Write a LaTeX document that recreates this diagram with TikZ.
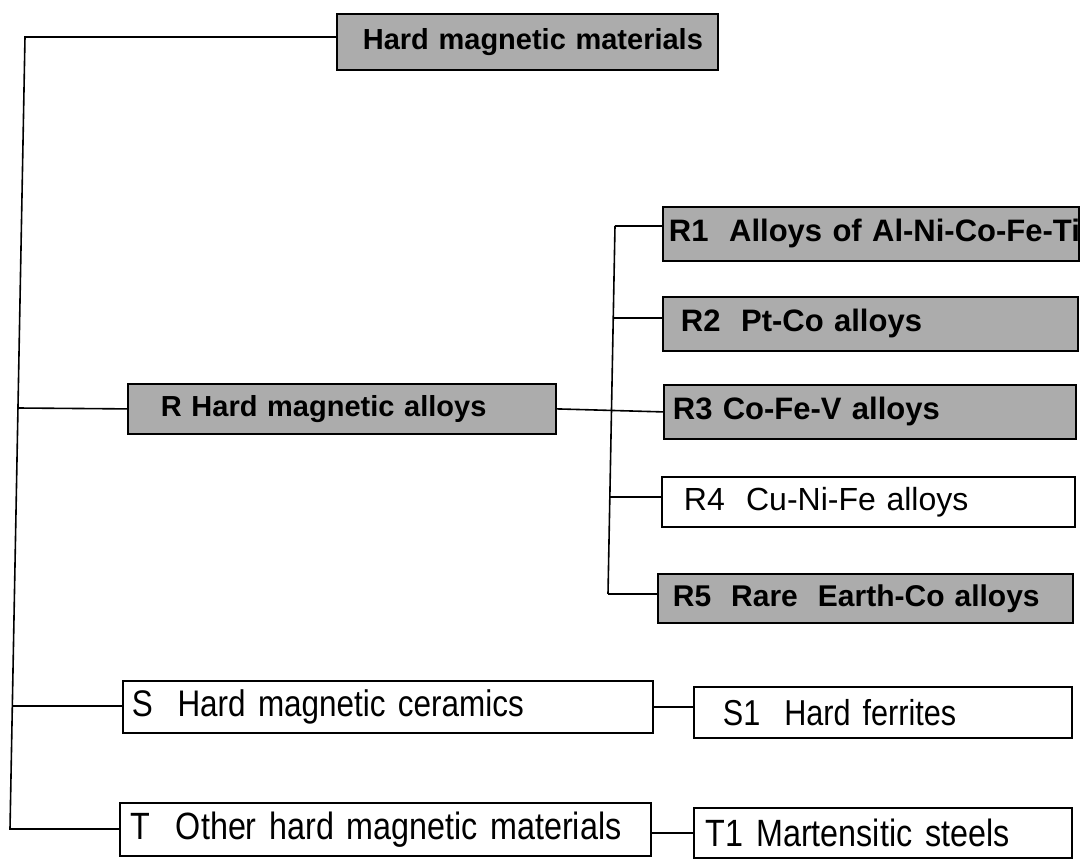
\documentclass[tikz,border=0pt]{standalone}
\usepackage{fontspec}
\setmainfont{Liberation Sans}
\newfontfamily\condfont{Liberation Sans}[FakeStretch=0.85]
\definecolor{boxgray}{RGB}{172,172,172}
\begin{document}
\begin{tikzpicture}[x=1pt,y=-1pt,
  box/.style={draw=black, line width=1.8pt, anchor=north west, align=left, inner ysep=0pt},
  gbox/.style={box, fill=boxgray, font=\bfseries},
  wbox/.style={box, fill=white},
  conn/.style={draw=black, line width=1.6pt}]
\useasboundingbox (0,0) rectangle (1080,859);
% nodes
\node[gbox, minimum width=381pt, minimum height=56pt, inner xsep=26pt, text width=329pt, font=\bfseries\fontsize{29}{32}\selectfont] (top) at (336,13) {\mbox{Hard magnetic materials}};
\node[gbox, minimum width=428pt, minimum height=50pt, inner xsep=33pt, text width=362pt, font=\bfseries\fontsize{29}{32}\selectfont] (R) at (127,383) {\mbox{R Hard magnetic alloys}};
\node[gbox, minimum width=416pt, minimum height=54pt, inner xsep=6pt, text width=404pt, font=\bfseries\fontsize{31}{34}\selectfont] (R1) at (662,206) {\mbox{R1\ \ Alloys of Al-Ni-Co-Fe-Ti}};
\node[gbox, minimum width=415pt, minimum height=54pt, inner xsep=18pt, text width=379pt, font=\bfseries\fontsize{31}{34}\selectfont] (R2) at (662,296) {\mbox{R2\ \ Pt-Co alloys}};
\node[gbox, minimum width=412pt, minimum height=54pt, inner xsep=9pt, text width=394pt, font=\bfseries\fontsize{31}{34}\selectfont] (R3) at (663,384) {\mbox{R3 Co-Fe-V alloys}};
\node[wbox, minimum width=413pt, minimum height=50pt, inner xsep=22pt, text width=369pt, font=\fontsize{32}{35}\selectfont] (R4) at (661,476) {\mbox{R4\ \ Cu-Ni-Fe alloys}};
\node[gbox, minimum width=415pt, minimum height=49pt, inner xsep=15pt, text width=385pt, font=\bfseries\fontsize{30}{33}\selectfont] (R5) at (657,573) {\mbox{R5\ \ Rare\ \ Earth-Co alloys}};
\node[wbox, minimum width=530pt, minimum height=52pt, inner xsep=9pt, text width=512pt, font=\condfont\fontsize{37}{40}\selectfont] (S) at (122,680) {\mbox{S\ \ Hard magnetic ceramics}};
\node[wbox, minimum width=378pt, minimum height=51pt, inner xsep=29pt, text width=320pt, font=\condfont\fontsize{36}{39}\selectfont] (S1) at (693,686) {\mbox{S1\ \ Hard ferrites}};
\node[wbox, minimum width=531pt, minimum height=53pt, inner xsep=11pt, text width=509pt, font=\condfont\fontsize{38}{41}\selectfont] (T) at (119,802) {\mbox{T\ \ Other hard magnetic materials}};
\node[wbox, minimum width=378pt, minimum height=50pt, inner xsep=12pt, text width=354pt, font=\condfont\fontsize{38}{41}\selectfont] (T1) at (693,807) {\mbox{T1 Martensitic steels}};
% trunk coordinates
\coordinate (tl) at (25,37);
\coordinate (jR) at (18,408);
\coordinate (jS) at (12.4,706);
\coordinate (bl) at (10,829);
% R children trunk
\coordinate (j1) at (615,226);
\coordinate (j2) at (613.3,318);
\coordinate (j4) at (609.8,497);
\coordinate (j5) at (608,594);
% connectors
\draw[conn] (top.west |- tl) -- (tl) -- (bl) -- (bl -| T.west);
\draw[conn] (jR) -- (R.west);
\draw[conn] (jS) -- (jS -| S.west);
\draw[conn] (R.east) -- (R3.west);
\draw[conn] (j1) -- (j5);
\draw[conn] (j1) -- (j1 -| R1.west);
\draw[conn] (j2) -- (j2 -| R2.west);
\draw[conn] (j4) -- (j4 -| R4.west);
\draw[conn] (j5) -- (j5 -| R5.west);
\draw[conn] (S.east) -- (S.east -| S1.west);
\draw[conn] (T1.west -| T.east) -- (T1.west);
\end{tikzpicture}
\end{document}
